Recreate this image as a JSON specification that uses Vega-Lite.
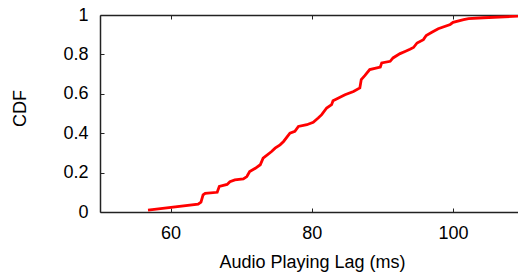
{
  "$schema": "https://vega.github.io/schema/vega-lite/v6.json",
  "autosize": {"type": "none"},
  "padding": {"left": 100, "top": 15, "right": 0, "bottom": 60},
  "width": 418,
  "height": 197,
  "background": "white",
  "config": {
    "view": {"stroke": null},
    "axis": {
      "labelFont": "Liberation Sans",
      "titleFont": "Liberation Sans",
      "labelFontSize": 18,
      "titleFontSize": 18,
      "labelColor": "#000",
      "titleColor": "#000",
      "titleFontWeight": "normal",
      "domainColor": "#222",
      "domainWidth": 1.5,
      "tickColor": "#222",
      "tickWidth": 1,
      "labelOverlap": false,
      "labelFlush": false,
      "grid": false
    }
  },
  "data": {
    "values": [
      {"lag": 56.8, "cdf": 0.01},
      {"lag": 63.9, "cdf": 0.04},
      {"lag": 64.3, "cdf": 0.05},
      {"lag": 64.6, "cdf": 0.087},
      {"lag": 64.9, "cdf": 0.095},
      {"lag": 66.6, "cdf": 0.1},
      {"lag": 66.9, "cdf": 0.13},
      {"lag": 68.0, "cdf": 0.14},
      {"lag": 68.4, "cdf": 0.154},
      {"lag": 69.1, "cdf": 0.163},
      {"lag": 70.3, "cdf": 0.168},
      {"lag": 70.8, "cdf": 0.18},
      {"lag": 71.2, "cdf": 0.205},
      {"lag": 72.0, "cdf": 0.222},
      {"lag": 72.7, "cdf": 0.24},
      {"lag": 73.1, "cdf": 0.273},
      {"lag": 74.3, "cdf": 0.307},
      {"lag": 74.8, "cdf": 0.324},
      {"lag": 75.5, "cdf": 0.341},
      {"lag": 76.0, "cdf": 0.358},
      {"lag": 76.9, "cdf": 0.4},
      {"lag": 77.6, "cdf": 0.409},
      {"lag": 78.1, "cdf": 0.434},
      {"lag": 79.3, "cdf": 0.443},
      {"lag": 80.2, "cdf": 0.455},
      {"lag": 80.9, "cdf": 0.477},
      {"lag": 81.4, "cdf": 0.494},
      {"lag": 82.1, "cdf": 0.528},
      {"lag": 82.8, "cdf": 0.545},
      {"lag": 83.0, "cdf": 0.565},
      {"lag": 84.7, "cdf": 0.595},
      {"lag": 85.9, "cdf": 0.612},
      {"lag": 86.8, "cdf": 0.63},
      {"lag": 87.0, "cdf": 0.672},
      {"lag": 87.5, "cdf": 0.692},
      {"lag": 88.2, "cdf": 0.723},
      {"lag": 89.7, "cdf": 0.736},
      {"lag": 89.9, "cdf": 0.757},
      {"lag": 91.1, "cdf": 0.765},
      {"lag": 91.5, "cdf": 0.782},
      {"lag": 92.5, "cdf": 0.804},
      {"lag": 93.2, "cdf": 0.815},
      {"lag": 93.9, "cdf": 0.826},
      {"lag": 94.4, "cdf": 0.835},
      {"lag": 94.9, "cdf": 0.858},
      {"lag": 95.8, "cdf": 0.875},
      {"lag": 96.2, "cdf": 0.896},
      {"lag": 97.0, "cdf": 0.912},
      {"lag": 97.9, "cdf": 0.93},
      {"lag": 99.6, "cdf": 0.952},
      {"lag": 100.0, "cdf": 0.963},
      {"lag": 101.5, "cdf": 0.977},
      {"lag": 102.2, "cdf": 0.982},
      {"lag": 104.3, "cdf": 0.986},
      {"lag": 109.2, "cdf": 0.994},
      {"lag": 110.0, "cdf": 0.995}
    ]
  },
  "resolve": {"axis": {"x": "independent"}},
  "layer": [
    {
      "mark": {"type": "line", "color": "#ff0000", "strokeWidth": 2.8, "clip": true},
      "encoding": {
        "x": {
          "field": "lag", "type": "quantitative",
          "scale": {"domain": [50, 109.2], "nice": false, "zero": false},
          "axis": {
            "orient": "bottom",
            "values": [60, 80, 100],
            "tickSize": -4,
            "labelPadding": 16,
            "title": "Audio Playing Lag (ms)",
            "titlePadding": 11,
            "titleX": 212
          }
        },
        "y": {
          "field": "cdf", "type": "quantitative",
          "scale": {"domain": [0, 1], "nice": false},
          "axis": {
            "values": [0, 0.2, 0.4, 0.6, 0.8, 1],
            "format": ".1~f",
            "tickSize": -4,
            "labelPadding": 16,
            "labelOverlap": false,
            "labelBound": false,
            "title": "CDF",
            "titleX": -75,
            "titleY": 93,
            "titleBaseline": "alphabetic"
          }
        }
      }
    },
    {
      "mark": {"type": "line", "opacity": 0},
      "encoding": {
        "x": {
          "field": "lag", "type": "quantitative",
          "scale": {"domain": [50, 109.2], "nice": false, "zero": false},
          "axis": {
            "orient": "top",
            "values": [60, 80, 100],
            "tickSize": -4,
            "labels": false,
            "title": null
          }
        },
        "y": {
          "field": "cdf", "type": "quantitative",
          "axis": {"labelOverlap": false, "values": [0, 0.2, 0.4, 0.6, 0.8, 1], "format": ".1~f"}
        }
      }
    }
  ]
}
